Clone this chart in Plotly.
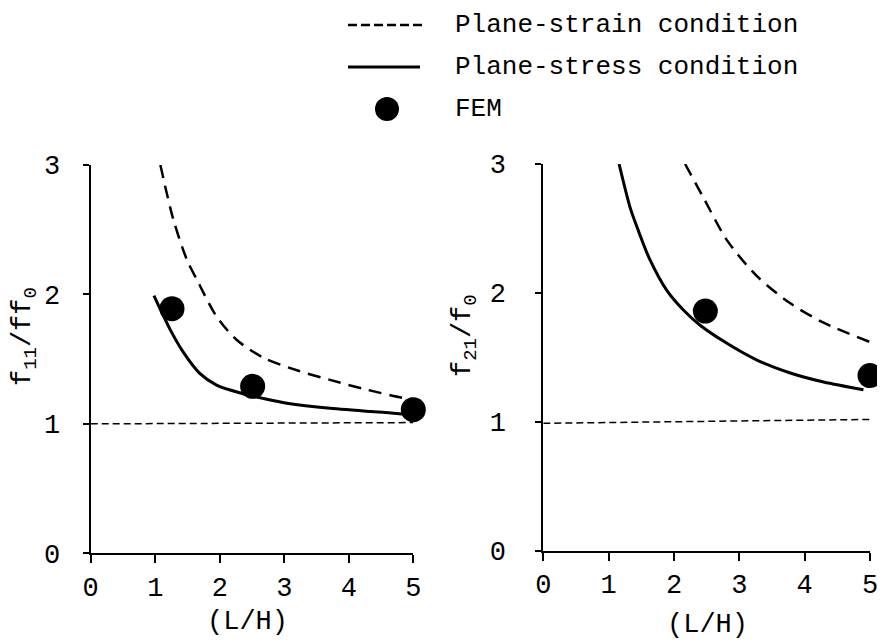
import plotly.graph_objects as go

# values
lh_ticks = [0, 1, 2, 3, 4, 5]
ratio_ticks = [0, 1, 2, 3]

left_strain_x = [1.08, 1.28, 1.49, 1.66, 1.95, 2.26, 2.68, 3.22, 3.71, 4.23, 4.85, 5.0]
left_strain_y = [3.0, 2.58, 2.27, 2.10, 1.83, 1.65, 1.51, 1.41, 1.34, 1.27, 1.20, 1.19]
left_stress_x = [0.98, 1.23, 1.44, 1.69, 1.95, 2.31, 2.73, 3.04, 3.71, 4.74, 4.95]
left_stress_y = [1.99, 1.73, 1.55, 1.39, 1.30, 1.24, 1.19, 1.16, 1.12, 1.08, 1.07]
left_fem_x = [1.26, 2.51, 5.0]
left_fem_y = [1.89, 1.29, 1.11]
left_ref_x = [0, 5]
left_ref_y = [1.0, 1.01]

right_strain_x = [2.17, 2.45, 2.81, 3.27, 3.78, 4.29, 5.0]
right_strain_y = [3.0, 2.74, 2.41, 2.13, 1.92, 1.77, 1.62]
right_stress_x = [1.16, 1.33, 1.45, 1.63, 1.89, 2.14, 2.40, 2.81, 3.27, 3.78, 4.29, 4.9]
right_stress_y = [3.0, 2.66, 2.49, 2.26, 2.02, 1.87, 1.75, 1.61, 1.48, 1.38, 1.31, 1.25]
right_fem_x = [2.48, 5.0]
right_fem_y = [1.86, 1.36]
right_ref_x = [0, 5]
right_ref_y = [0.99, 1.02]

legend_labels = ["Plane-strain condition", "Plane-stress condition", "FEM"]

FONT = "Liberation Mono, Courier New, monospace"
# the page body has an 8px margin, so the figure is made smaller and positions shifted
OFF = 8
W, H = 885 - OFF, 642 - OFF


def fx(px):
    return (px - OFF) / W


def fy(py):
    return 1 - (py - OFF) / H


def add_panel(fig, xa, ya, strain, stress, fem, ref):
    fig.add_trace(go.Scatter(x=ref[0], y=ref[1], mode="lines",
                             line=dict(color="black", width=1.5, dash="7px,4px"),
                             xaxis=xa, yaxis=ya, showlegend=False))
    fig.add_trace(go.Scatter(x=strain[0], y=strain[1], mode="lines", line_shape="spline",
                             line=dict(color="black", width=2.5, dash="13px,8px", smoothing=0.8),
                             xaxis=xa, yaxis=ya, showlegend=False))
    fig.add_trace(go.Scatter(x=stress[0], y=stress[1], mode="lines", line_shape="spline",
                             line=dict(color="black", width=3, smoothing=0.8),
                             xaxis=xa, yaxis=ya, showlegend=False))
    fig.add_trace(go.Scatter(x=fem[0], y=fem[1], mode="markers",
                             marker=dict(color="black", size=25),
                             cliponaxis=False, xaxis=xa, yaxis=ya, showlegend=False))


fig = go.Figure()
add_panel(fig, "x", "y", (left_strain_x, left_strain_y), (left_stress_x, left_stress_y),
          (left_fem_x, left_fem_y), (left_ref_x, left_ref_y))
add_panel(fig, "x2", "y2", (right_strain_x, right_strain_y), (right_stress_x, right_stress_y),
          (right_fem_x, right_fem_y), (right_ref_x, right_ref_y))

xcommon = dict(range=[0, 5], tickvals=lh_ticks, showline=True, linecolor="black", linewidth=2,
               ticks="outside", ticklen=8, tickwidth=2, tickcolor="black",
               showgrid=False, zeroline=False, ticklabelstandoff=0, automargin=False,
               tickfont=dict(family=FONT, size=27, color="black"))
ycommon = dict(range=[0, 3], tickvals=ratio_ticks, showline=True, linecolor="black", linewidth=2,
               ticks="outside", ticklen=6, tickwidth=2, tickcolor="black",
               showgrid=False, zeroline=False, automargin=False,
               tickfont=dict(family=FONT, size=27, color="black"))

fig.update_layout(
    width=W, height=H, autosize=False,
    margin=dict(l=0, r=0, t=0, b=0, pad=0, autoexpand=False),
    paper_bgcolor="white", plot_bgcolor="white",
    showlegend=False,
    xaxis=dict(xcommon, domain=[fx(90.7), fx(413.3)], anchor="y"),
    yaxis=dict(ycommon, domain=[fy(553.3), fy(165)], anchor="x", ticklabelstandoff=17),
    xaxis2=dict(xcommon, domain=[fx(543.3), fx(870)], anchor="y2"),
    yaxis2=dict(ycommon, domain=[fy(551), fy(164)], anchor="x2", ticklabelstandoff=24),
)

# axis titles
titles = [
    dict(text="(L/H)", x=fx(247), y=fy(622), textangle=0),
    dict(text="(L/H)", x=fx(707), y=fy(625), textangle=0),
    dict(text="f<sub>11</sub>/ff<sub>0</sub>", x=fx(25), y=fy(337), textangle=-90),
    dict(text="f<sub>21</sub>/f<sub>0</sub>", x=fx(465), y=fy(336), textangle=-90),
]
for t in titles:
    fig.add_annotation(xref="paper", yref="paper", showarrow=False,
                       xanchor="center", yanchor="middle",
                       font=dict(family=FONT, size=27, color="black"), **t)

# legend drawn by hand so the samples are as long as in the original
legend_rows = [25, 67, 109]
fig.add_shape(type="line", xref="paper", yref="paper", x0=fx(348), x1=fx(425),
              y0=fy(legend_rows[0]), y1=fy(legend_rows[0]),
              line=dict(color="black", width=2.5, dash="9px,4px"))
fig.add_shape(type="line", xref="paper", yref="paper", x0=fx(348), x1=fx(420),
              y0=fy(legend_rows[1]), y1=fy(legend_rows[1]),
              line=dict(color="black", width=3))
fig.add_shape(type="circle", xref="paper", yref="paper", xsizemode="pixel", ysizemode="pixel",
              xanchor=fx(387), yanchor=fy(legend_rows[2]), x0=-12, x1=12, y0=-12, y1=12,
              fillcolor="black", line=dict(color="black", width=0))
for label, row in zip(legend_labels, legend_rows):
    fig.add_annotation(xref="paper", yref="paper", x=fx(453), y=fy(row), text=label,
                       showarrow=False, xanchor="left", yanchor="middle",
                       font=dict(family=FONT, size=26, color="black"))

fig.write_html("out.html")
